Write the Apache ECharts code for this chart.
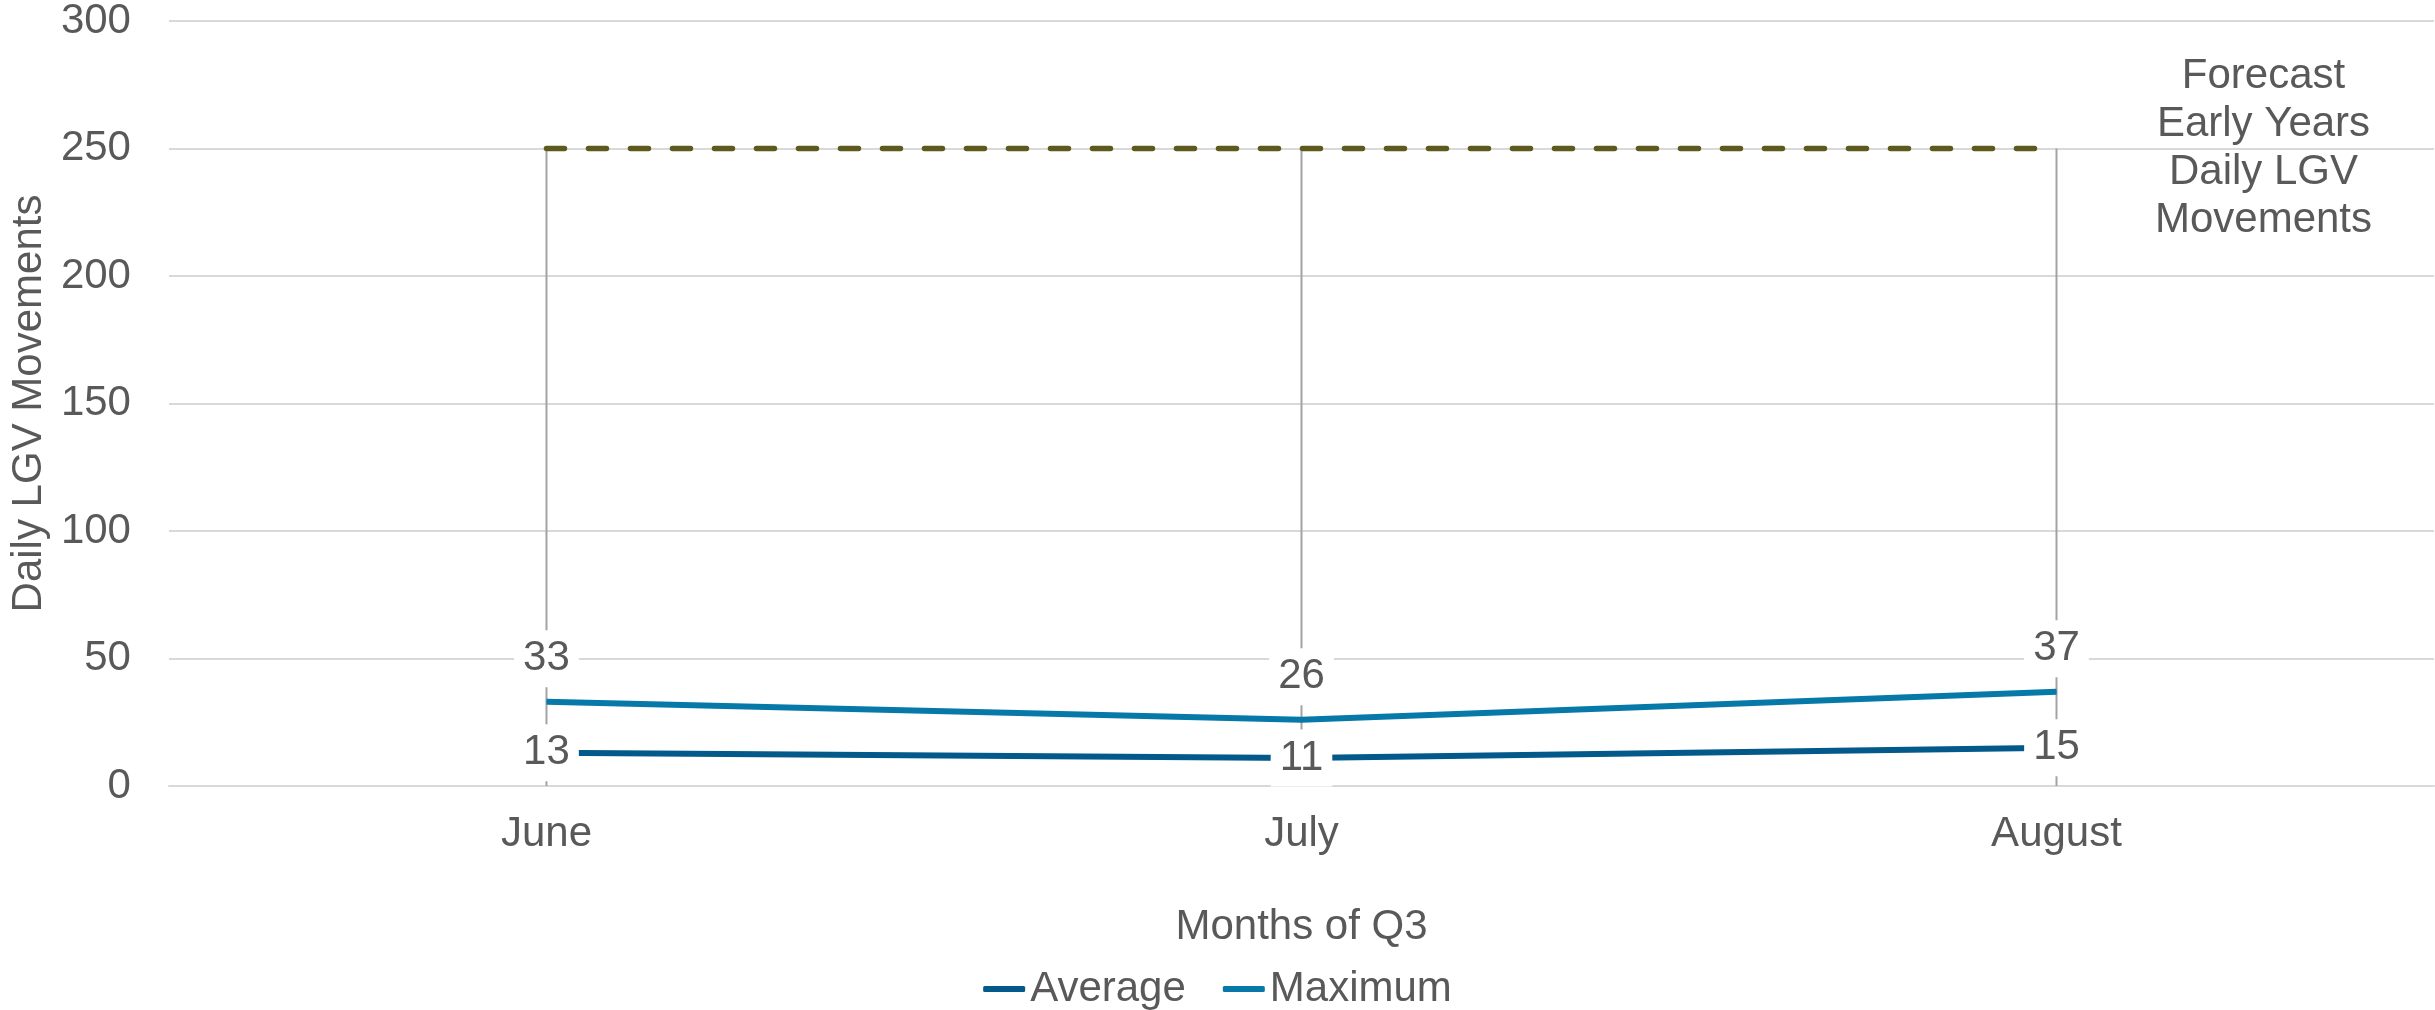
<!DOCTYPE html>
<html>
<head>
<meta charset="utf-8">
<script src="https://cdn.jsdelivr.net/npm/echarts@6/dist/echarts.min.js"></script>
<style>
html,body{margin:0;padding:0;background:#fff;}
#chart{width:2435px;height:1010px;}
</style>
</head>
<body>
<div id="chart"></div>
<script>
const months = ['June', 'July', 'August'];
const averageValues = [13, 11, 15];
const maximumValues = [33, 26, 37];
const forecastValues = [250, 250, 250];
const yTicks = [0, 50, 100, 150, 200, 250, 300];
const forecastText = 'Forecast\nEarly Years\nDaily LGV\nMovements';

const FONT = '"Liberation Sans", Arial, sans-serif';
const TXT = '#595959';
const FS = 42;

const chart = echarts.init(document.getElementById('chart'), null, {renderer: 'canvas'});

const dataLabel = {
  show: true,
  fontFamily: FONT,
  fontSize: FS,
  color: TXT,
  lineHeight: 45,
  backgroundColor: '#ffffff',
  padding: [6, 9]
};

chart.setOption({
  animation: false,
  textStyle: {fontFamily: FONT},
  grid: {left: 162, right: 1, top: 18, bottom: 224, containLabel: false},
  legend: {
    top: 963,
    left: 'center',
    itemWidth: 42,
    itemHeight: 6,
    itemGap: 37,
    textStyle: {fontFamily: FONT, fontSize: FS, color: TXT},
    data: [
      {name: 'Average', icon: 'roundRect'},
      {name: 'Maximum', icon: 'roundRect'}
    ]
  },
  xAxis: {
    type: 'category',
    data: months,
    boundaryGap: true,
    name: 'Months of Q3',
    nameLocation: 'middle',
    nameGap: 120,
    nameTextStyle: {fontFamily: FONT, fontSize: FS, color: TXT},
    axisLine: {show: true, lineStyle: {color: '#d9d9d9', width: 2}},
    axisTick: {show: false},
    axisLabel: {fontFamily: FONT, fontSize: FS, color: TXT, margin: 27},
    splitLine: {show: false}
  },
  yAxis: {
    type: 'value',
    min: yTicks[0],
    max: yTicks[yTicks.length - 1],
    interval: yTicks[1] - yTicks[0],
    name: 'Daily LGV Movements',
    nameLocation: 'middle',
    nameGap: 117,
    nameRotate: 90,
    nameTextStyle: {fontFamily: FONT, fontSize: FS, color: TXT},
    axisLine: {show: false},
    axisTick: {show: false},
    axisLabel: {fontFamily: FONT, fontSize: FS, color: TXT, margin: 38},
    splitLine: {show: true, lineStyle: {color: '#d9d9d9', width: 2}}
  },
  series: [
    {
      name: 'Drop lines',
      type: 'bar',
      data: forecastValues,
      barWidth: 2,
      itemStyle: {color: '#a3a3a3'},
      silent: true,
      z: 1
    },
    {
      name: 'Forecast',
      type: 'line',
      data: forecastValues,
      symbol: 'none',
      silent: true,
      lineStyle: {color: '#5e5a1e', width: 5.5, type: [18, 24], cap: 'round'},
      endLabel: {
        show: true,
        formatter: forecastText,
        fontFamily: FONT,
        fontSize: FS,
        lineHeight: 48,
        color: TXT,
        align: 'center',
        verticalAlign: 'middle',
        distance: 0,
        offset: [207, 0]
      },
      z: 2
    },
    {
      name: 'Maximum',
      type: 'line',
      data: maximumValues,
      symbol: 'circle',
      symbolSize: 1,
      itemStyle: {color: '#0779a8'},
      lineStyle: {color: '#0779a8', width: 6},
      label: Object.assign({}, dataLabel, {position: 'top', distance: 14}),
      z: 3
    },
    {
      name: 'Average',
      type: 'line',
      data: averageValues,
      symbol: 'circle',
      symbolSize: 1,
      itemStyle: {color: '#02598a'},
      lineStyle: {color: '#02598a', width: 6},
      label: Object.assign({}, dataLabel, {position: 'inside'}),
      z: 3
    }
  ]
});
</script>
</body>
</html>
